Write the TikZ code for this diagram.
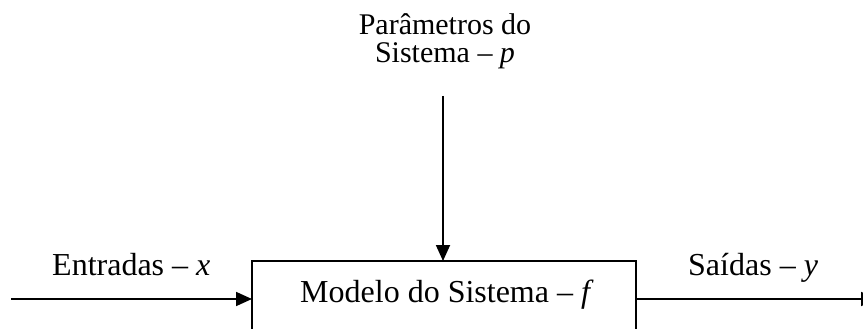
\documentclass[tikz,border=0pt]{standalone}
\usepackage{fontspec}
\setmainfont{Liberation Serif}
\usetikzlibrary{arrows.meta}
\begin{document}
\begin{tikzpicture}[x=1pt,y=1pt,
  lbl/.style={inner sep=0pt,anchor=base west,font=\fontsize{32}{36}\selectfont},
  toplbl/.style={inner sep=0pt,anchor=base,font=\fontsize{30}{34}\selectfont},
  conn/.style={line width=1.8pt,-{Triangle[length=16pt,width=14pt]}}]
\useasboundingbox (0,0) rectangle (863,-329);
\clip (0,0) rectangle (863,-329);
% block
\coordinate (bl) at (252,-345);
\coordinate (tr) at (636,-261);
\draw[line width=1.8pt] (bl) rectangle (tr);
\coordinate (bw) at (252,-299);
\coordinate (be) at (636,-299);
\coordinate (bn) at (443,-261);
\node[lbl] (model) at (300,-302) {Modelo do Sistema -- \textit{f}};
% input
\coordinate (inS) at (11,-299);
\draw[conn] (inS) -- (bw);
\node[lbl] (inlbl) at (52,-275) {Entradas -- \textit{x}};
% output
\coordinate (outE) at (877,-299);
\draw[conn] (be) -- (outE);
\node[lbl] (outlbl) at (688,-275) {Saídas -- \textit{y}};
% parameters
\node[toplbl] (p1) at (445,-35) {Parâmetros do};
\node[toplbl] (p2) at (445,-63) {Sistema -- \textit{p}};
\coordinate (pS) at (443,-96);
\draw[conn] (pS) -- (bn);
\end{tikzpicture}
\end{document}
